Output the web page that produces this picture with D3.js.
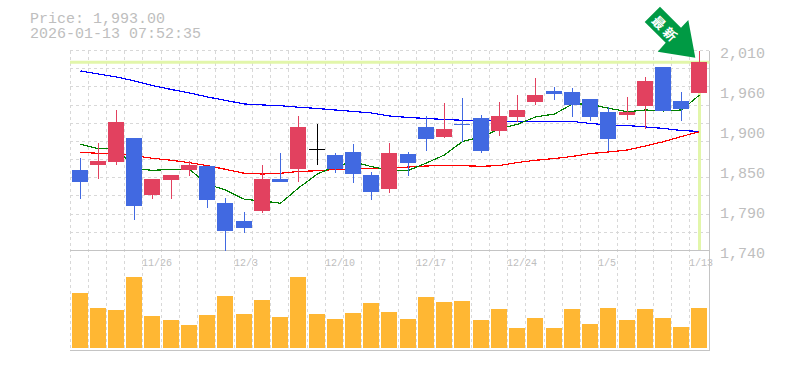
<!DOCTYPE html>
<html>
<head>
<meta charset="utf-8">
<script src="https://cdn.jsdelivr.net/npm/d3@7"></script>
<style>
  html, body { margin: 0; padding: 0; background: #fff; }
  text { font-family: "Liberation Mono", monospace; fill: #bebebe; }
</style>
</head>
<body>
<div id="chart"></div>
<script>
const priceText = 'Price: 1,993.00';
const timeText = '2026-01-13 07:52:35';
const lastPrice = 1993;

// one entry per trading day
const days = ['11/20','11/21','11/24','11/25','11/26','11/27','11/28','12/1','12/2','12/3','12/4','12/5','12/8','12/9','12/10','12/11','12/12','12/15','12/16','12/17','12/18','12/19','12/22','12/23','12/24','12/25','12/26','12/29','12/30','1/5','1/6','1/7','1/8','1/9','1/13'];
const dayLabels = ['11/26','12/3','12/10','12/17','12/24','1/5','1/13'];

const opens  = [1847.7,1854.5,1858.5,1890.9,1814,1834.2,1847.7,1853.1,1803.2,1778.9,1792.4,1835.6,1849.1,1876.5,1868,1872,1841,1822.1,1869.3,1905.8,1892.3,1909.8,1917.9,1900.4,1919.3,1939.5,1954.3,1953,1943.6,1926,1922,1934.1,1986.7,1940.9,1951.7];
const highs  = [1863.9,1884.2,1928.7,1890.9,1835.6,1841,1859.9,1853.1,1809.9,1791,1854.5,1870.7,1920.6,1909.8,1870.7,1882.8,1845,1884.2,1872,1920.6,1938.2,1944.9,1922,1939.5,1949,1971.9,1959.7,1958.4,1943.6,1932.8,1946.3,1973.2,1986.7,1953,2008.4];
const lows   = [1808.6,1835.6,1854.5,1780.2,1808.6,1808.6,1839.6,1796.4,1738.4,1762.7,1789.7,1831.5,1831.5,1854.5,1843.7,1830.2,1807.2,1816.7,1839.6,1873.4,1890.9,1885.6,1870.7,1893.6,1912.5,1935.5,1942.2,1919.3,1913.9,1873.4,1915.2,1903.1,1927.4,1913.9,1951.7];
const closes = [1831.5,1859.9,1912.5,1799.1,1835.6,1841,1854.5,1807.2,1765.4,1769.4,1835.6,1831.5,1905.8,1876.5,1849.1,1842.3,1818,1870.7,1857.2,1889.6,1903.1,1909.4,1873.4,1920.6,1928.7,1949,1950.3,1935.5,1919.3,1889.6,1926,1967.9,1927.4,1930.1,1993];

const volumes = [55,40,38,71,32,28,23,33,52,34,48,31,71,34,29,35,45,36,29,51,46,47,28,39,20,30,20,39,24,40,28,39,30,21,40];

const maShort  = [1882.4,1876.5,1877,1849.9,1847.2,1848.6,1848.6,1828.4,1820.7,1808.1,1805.9,1802.8,1823.4,1842.3,1853.1,1858.5,1852.2,1847.7,1847.2,1857.2,1868,1886.1,1892.3,1903.1,1909.4,1919.3,1923.3,1936.8,1936.5,1931,1926.4,1928.7,1927.4,1928.7,1948.9];
const maMiddle = [1871.6,1870.2,1870.2,1867,1863.5,1860.8,1857.6,1853.5,1848.6,1843.2,1842.3,1843.2,1845.7,1846.7,1848.4,1849.1,1849.4,1849.9,1851.7,1853.1,1854,1853.5,1852.7,1853.7,1857.8,1860.8,1863.2,1866,1869.9,1872,1874.7,1880.1,1885.9,1892.9,1899.5];
const maLong   = [1981.4,1977.3,1973.2,1967.9,1961.7,1956.3,1951.7,1946.3,1941.6,1936.8,1935.5,1934.5,1932.4,1930.7,1928.7,1926.7,1924.7,1920.6,1918.6,1917.2,1915.9,1914.8,1914.1,1913.9,1913.2,1913.4,1913.4,1913.2,1910.5,1908.4,1907.7,1905.8,1903.8,1901,1899.7];

const priceTicks = [2009,1955,1901,1847,1793,1739];
const gridIntervals = 11;

let dimensions = {
  width: 785,
  height: 370,
  left: 70,
  right: 708.2,
  top: 50.5,
  priceBottom: 250.5,
  volumeBottom: 348,
  frameBottom: 350.5,
  frameRight: 709.5,
  bodyInset: 2,
  bodyWidth: 16,
}

const wrapper = d3.select('#chart')
  .append('svg')
  .attr('width', dimensions.width)
  .attr('height', dimensions.height)
  .style('display', 'block')

//// Scales
const xScale = d3.scaleBand()
  .domain(days)
  .range([dimensions.left, dimensions.right])

const priceScale = d3.scaleLinear()
  .domain([1739, 2009])
  .range([dimensions.priceBottom, dimensions.top])

const volumeScale = d3.scaleLinear()
  .domain([0, 100])
  .range([dimensions.volumeBottom, dimensions.volumeBottom - 100])

const slotX = d => Math.floor(xScale(d))
const midX = d => slotX(d) + 10.5

//// Grid
const gridColor = '#d8d8d8'
const grid = wrapper.append('g')
  .attr('stroke', gridColor)
  .attr('stroke-dasharray', '3,3')
  .attr('shape-rendering', 'crispEdges')

grid.selectAll('line.v')
  .data(days)
  .join('line')
  .attr('class', 'v')
  .attr('x1', d => slotX(d) + 0.5)
  .attr('x2', d => slotX(d) + 0.5)
  .attr('y1', dimensions.top)
  .attr('y2', dimensions.frameBottom)

const gridPrices = d3.range(gridIntervals).map(i => priceScale.invert(dimensions.top + i * (dimensions.priceBottom - dimensions.top) / gridIntervals))

grid.selectAll('line.h')
  .data(gridPrices)
  .join('line')
  .attr('class', 'h')
  .attr('x1', dimensions.left)
  .attr('x2', dimensions.frameRight)
  .attr('y1', d => Math.floor(priceScale(d)) + 0.5)
  .attr('y2', d => Math.floor(priceScale(d)) + 0.5)

//// Frame
const frame = wrapper.append('g').attr('stroke', '#c4c4c4').attr('fill', 'none').attr('shape-rendering', 'crispEdges')
frame.append('path')
  .attr('d', `M${dimensions.frameRight},${dimensions.top}V${dimensions.frameBottom}H${dimensions.left}M${dimensions.left},${dimensions.priceBottom}H${dimensions.frameRight}`)

//// Latest price marker
const marker = wrapper.append('g').attr('stroke', '#e2f6aa').attr('stroke-width', 3)
marker.append('line')
  .attr('x1', dimensions.left)
  .attr('x2', dimensions.frameRight)
  .attr('y1', priceScale(lastPrice))
  .attr('y2', priceScale(lastPrice))
marker.append('line')
  .attr('x1', midX(days[days.length - 1]))
  .attr('x2', midX(days[days.length - 1]))
  .attr('y1', priceScale(lastPrice))
  .attr('y2', dimensions.priceBottom - 0.5)

//// Moving averages
const lineGenerator = d3.line()
  .x((d, i) => midX(days[i]))
  .y(d => priceScale(d))

const averages = [
  { values: maLong, color: '#0000ff' },
  { values: maMiddle, color: '#ff0000' },
  { values: maShort, color: '#008000' },
]

wrapper.append('g').selectAll('path')
  .data(averages)
  .join('path')
  .attr('fill', 'none')
  .attr('stroke', d => d.color)
  .attr('stroke-width', 1.2)
  .attr('shape-rendering', 'crispEdges')
  .attr('d', d => lineGenerator(d.values))

//// Candles
const candleColor = i => {
  if (closes[i] > opens[i]) return '#e2415f'
  if (closes[i] < opens[i]) return '#4169e1'
  return '#000000'
}

const candles = wrapper.append('g').selectAll('g')
  .data(days)
  .join('g')
  .attr('shape-rendering', 'crispEdges')

candles.append('line')
  .attr('x1', d => midX(d))
  .attr('x2', d => midX(d))
  .attr('y1', (d, i) => priceScale(highs[i]))
  .attr('y2', (d, i) => priceScale(lows[i]))
  .attr('stroke', (d, i) => candleColor(i))

candles.append('rect')
  .attr('x', d => slotX(d) + dimensions.bodyInset)
  .attr('width', dimensions.bodyWidth)
  .attr('y', (d, i) => priceScale(Math.max(opens[i], closes[i])))
  .attr('height', (d, i) => Math.max(1, Math.abs(priceScale(opens[i]) - priceScale(closes[i]))))
  .attr('fill', (d, i) => candleColor(i))

//// Volume
wrapper.append('g').selectAll('rect')
  .data(days)
  .join('rect')
  .attr('x', d => slotX(d) + dimensions.bodyInset)
  .attr('width', dimensions.bodyWidth)
  .attr('y', (d, i) => volumeScale(volumes[i]))
  .attr('height', (d, i) => volumeScale(0) - volumeScale(volumes[i]))
  .attr('fill', '#ffb733')
  .attr('shape-rendering', 'crispEdges')

//// Arrow
const arrow = wrapper.append('g')
arrow.append('polygon')
  .attr('points', '660,6.7 644.7,22 665.7,42.7 657.7,51.7 695.3,57.7 688.3,20 681,27.7')
  .attr('fill', '#009a44')
arrow.append('text')
  .attr('transform', 'translate(666,29) rotate(45)')
  .attr('text-anchor', 'middle')
  .attr('dominant-baseline', 'central')
  .style('font-family', '"Noto Sans CJK JP"')
  .style('font-size', '13px')
  .style('font-weight', 700)
  .style('letter-spacing', '3px')
  .style('fill', '#ffffff')
  .text('最新')

//// Text
const title = wrapper.append('g').style('font-size', '15px')
title.append('text').attr('x', 30).attr('y', 23).text(priceText)
title.append('text').attr('x', 30).attr('y', 38).text(timeText)

// price labels are rounded to tens
wrapper.append('g').style('font-size', '15px').selectAll('text')
  .data(priceTicks)
  .join('text')
  .attr('x', 720)
  .attr('y', d => priceScale(d) + 7)
  .text(d => d3.format(',')(Math.round(d / 10) * 10))

wrapper.append('g').style('font-size', '10px').selectAll('text')
  .data(dayLabels)
  .join('text')
  .attr('x', d => slotX(d))
  .attr('y', dimensions.priceBottom + 15.5)
  .text(d => d)
</script>
</body>
</html>
